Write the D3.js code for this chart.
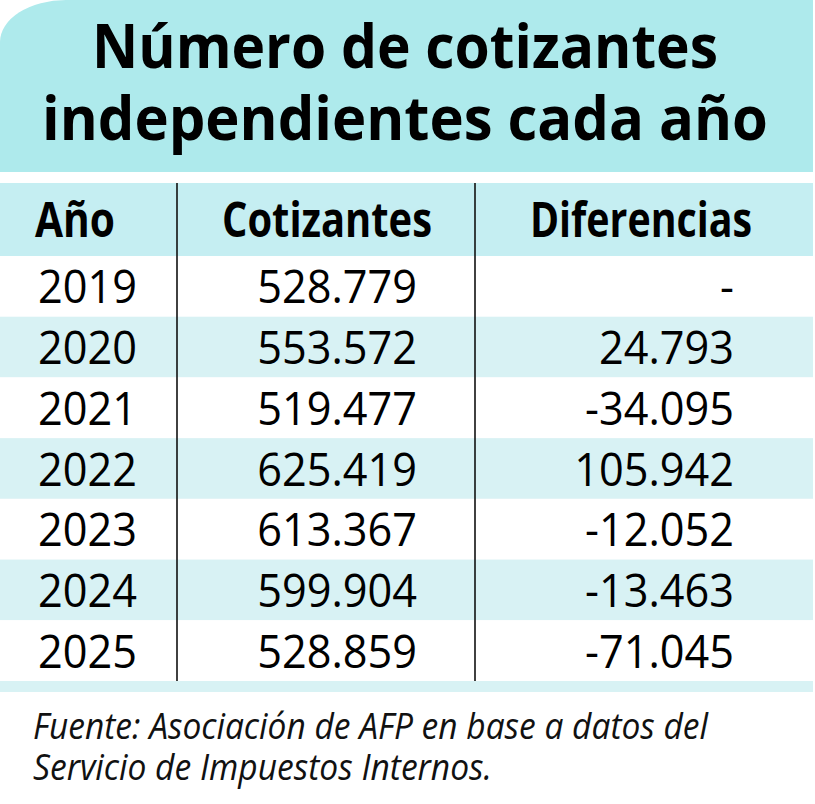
<!DOCTYPE html>
<html><head><meta charset="utf-8">
<script src="https://cdn.jsdelivr.net/npm/d3@7"></script>
<style>html,body{margin:0;padding:0;background:#fff;}svg{display:block;}</style>
</head><body>
<svg id="chart" width="815" height="804"></svg>
<script>
const titleLines = ["Número de cotizantes", "independientes cada año"];
const headers = ["Año", "Cotizantes", "Diferencias"];
const years = ["2019", "2020", "2021", "2022", "2023", "2024", "2025"];
const cotizantes = [528779, 553572, 519477, 625419, 613367, 599904, 528859];
const diferencias = [null, 24793, -34095, 105942, -12052, -13463, -71045];
const sourceLines = ["Fuente: Asociación de AFP en base a datos del", "Servicio de Impuestos Internos."];

const W = 815, right = 813;
const svg = d3.select("#chart");
const loc = d3.formatLocale({decimal: ",", thousands: ".", grouping: [3], currency: ["$", ""], minus: "-"});
const fmt = loc.format(",d");

const cTitle = "#aeeaec", cHead = "#c5eef2", cTint = "#d8f2f4";

// title box with rounded top-left corner
svg.append("path")
  .attr("d", `M0,172 V42 A66,42 0 0 1 66,0 H${right} V172 Z`)
  .attr("fill", cTitle);

const titleWidths = [626, 726];
svg.selectAll("text.title").data(titleLines).join("text")
  .attr("class", "title")
  .attr("x", 405).attr("y", (d, i) => 68 + i * 72)
  .attr("text-anchor", "middle")
  .attr("font-family", "'Open Sans', sans-serif").attr("font-weight", 700)
  .attr("font-size", 60).attr("fill", "#000")
  .attr("textLength", (d, i) => titleWidths[i]).attr("lengthAdjust", "spacingAndGlyphs")
  .text(d => d);

// header row
const headTop = 183, headBottom = 256, tableBottom = 681;
svg.append("rect").attr("x", 0).attr("y", headTop).attr("width", right).attr("height", headBottom - headTop).attr("fill", cHead);

const y = d3.scaleBand().domain(years).range([headBottom, tableBottom]).padding(0);

svg.selectAll("rect.row").data(years).join("rect")
  .attr("class", "row")
  .attr("x", 0).attr("y", d => y(d)).attr("width", right).attr("height", y.bandwidth())
  .attr("fill", (d, i) => i % 2 === 1 ? cTint : "#fff");

// bottom band
svg.append("rect").attr("x", 0).attr("y", tableBottom).attr("width", right).attr("height", 11).attr("fill", cTint);

// vertical separators
[177, 475].forEach(x => {
  svg.append("line").attr("x1", x).attr("x2", x).attr("y1", headTop).attr("y2", tableBottom)
    .attr("stroke", "#111").attr("stroke-width", 1.6);
});

// header text
const headX = [35, 222, 530], headW = [80, 210, 222];
svg.selectAll("text.head").data(headers).join("text")
  .attr("class", "head")
  .attr("x", (d, i) => headX[i]).attr("y", 237)
  .attr("font-family", "'Open Sans', sans-serif").attr("font-weight", 700)
  .attr("font-size", 48).attr("fill", "#000")
  .attr("textLength", (d, i) => headW[i]).attr("lengthAdjust", "spacingAndGlyphs")
  .text(d => d);

// body text
const bodyFont = 46, squeeze = 0.94;
function condensed(sel) {
  sel.each(function() {
    const n = this.getComputedTextLength();
    d3.select(this).attr("textLength", n * squeeze).attr("lengthAdjust", "spacingAndGlyphs");
  });
}
const baseY = d => y(d) + y.bandwidth() / 2 + 17;

svg.selectAll("text.year").data(years).join("text")
  .attr("class", "year").attr("x", 38).attr("y", d => baseY(d))
  .attr("font-family", "'Open Sans', sans-serif").attr("font-size", bodyFont).attr("fill", "#000")
  .text(d => d).call(condensed);

svg.selectAll("text.cot").data(cotizantes).join("text")
  .attr("class", "cot").attr("x", 417).attr("y", (d, i) => baseY(years[i]))
  .attr("text-anchor", "end")
  .attr("font-family", "'Open Sans', sans-serif").attr("font-size", bodyFont).attr("fill", "#000")
  .text(d => fmt(d)).call(condensed);

svg.selectAll("text.dif").data(diferencias).join("text")
  .attr("class", "dif").attr("x", 734).attr("y", (d, i) => baseY(years[i]))
  .attr("text-anchor", "end")
  .attr("font-family", "'Open Sans', sans-serif").attr("font-size", bodyFont).attr("fill", "#000")
  .text(d => d === null ? "-" : fmt(d)).call(condensed);

// source
const srcW = [675, 459];
svg.selectAll("text.src").data(sourceLines).join("text")
  .attr("class", "src").attr("x", 33).attr("y", (d, i) => 739 + i * 41)
  .attr("font-family", "'Open Sans', sans-serif").attr("font-style", "italic")
  .attr("font-size", 36).attr("fill", "#111")
  .attr("textLength", (d, i) => srcW[i]).attr("lengthAdjust", "spacingAndGlyphs")
  .text(d => d);
</script>
</body></html>
